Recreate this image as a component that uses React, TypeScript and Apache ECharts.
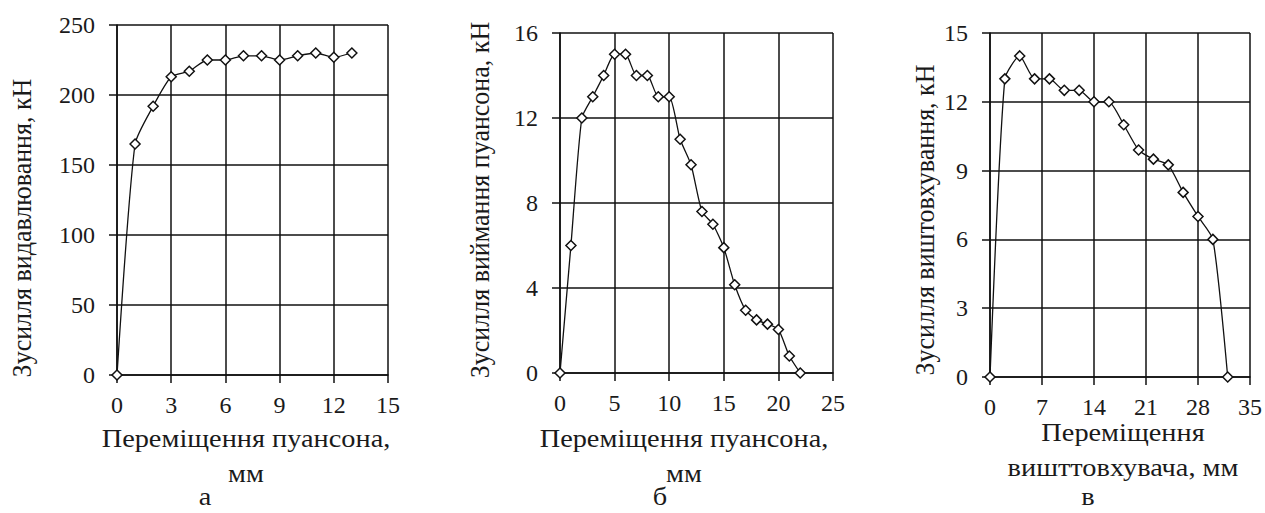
import React, { useEffect, useRef } from "react";
import * as echarts from "echarts";

// Chart а: extrusion force vs punch displacement
const xA = [0, 1, 2, 3, 4, 5, 6, 7, 8, 9, 10, 11, 12, 13];
const yA = [0, 165, 192, 213, 217, 225, 225, 228, 228, 225, 228, 230, 227, 230];
// Chart б: punch extraction force vs punch displacement
const xB = [0, 1, 2, 3, 4, 5, 6, 7, 8, 9, 10, 11, 12, 13, 14, 15, 16, 17, 18, 19, 20, 21, 22];
const yB = [0, 6, 12, 13, 14, 15, 15, 14, 14, 13, 13, 11, 9.8, 7.6, 7, 5.9, 4.15, 2.95, 2.5, 2.3, 2.05, 0.8, 0];
// Chart в: ejection force vs ejector displacement
const xC = [0, 2, 4, 6, 8, 10, 12, 14, 16, 18, 20, 22, 24, 26, 28, 30, 32];
const yC = [0, 13, 14, 13, 13, 12.5, 12.5, 12, 12, 11, 9.9, 9.5, 9.25, 8.05, 7, 6, 0];

// Axis ticks
const xTicksA = { min: 0, max: 15, interval: 3 };
const yTicksA = { min: 0, max: 250, interval: 50 };
const xTicksB = { min: 0, max: 25, interval: 5 };
const yTicksB = { min: 0, max: 16, interval: 4 };
const xTicksC = { min: 0, max: 35, interval: 7 };
const yTicksC = { min: 0, max: 15, interval: 3 };

const yTitles = ["Зусилля видавлювання, кН", "Зусилля виймання пуансона, кН", "Зусилля виштовхування, кН"];
const xTitles = [
  ["Переміщення пуансона,", "мм"],
  ["Переміщення пуансона,", "мм"],
  ["Переміщення", "вишттовхувача, мм"],
];
const captions = ["а", "б", "в"];

const FONT = "Liberation Serif";
const FS = 24;
const TS = 26;
const INK = "#1a1a1a";

export default function App() {
  const ref = useRef<HTMLDivElement>(null);
  useEffect(() => {
    document.body.style.margin = "0";
    const chart = echarts.init(ref.current!, undefined, { renderer: "svg" });

    const grids = [
      { left: 117, top: 25, width: 271, height: 350 },
      { left: 560, top: 33, width: 273, height: 340 },
      { left: 990, top: 33, width: 263, height: 344 },
    ];
    const lineStyle = { color: "#111", width: 1.5 };
    const mkX = (i: number, t: any) => ({
      type: "value",
      gridIndex: i,
      ...t,
      axisLine: { show: true, onZero: false, lineStyle },
      axisTick: { show: true, length: 8, lineStyle },
      splitLine: { show: true, lineStyle },
      axisLabel: { margin: 18, fontSize: FS, fontFamily: FONT, color: INK },
    });
    const mkY = (i: number, t: any) => ({
      type: "value",
      gridIndex: i,
      ...t,
      axisLine: { show: true, onZero: false, lineStyle },
      axisTick: { show: true, length: 8, lineStyle },
      splitLine: { show: true, lineStyle },
      axisLabel: { margin: 22, fontSize: FS, fontFamily: FONT, color: INK },
    });
    const mkS = (i: number, xs: number[], ys: number[]) => ({
      type: "line",
      xAxisIndex: i,
      yAxisIndex: i,
      data: xs.map((x, k) => [x, ys[k]]),
      smooth: 0.2,
      symbol: "diamond",
      symbolSize: 10,
      lineStyle: { color: "#111", width: 1.3 },
      itemStyle: { color: "#fff", borderColor: "#111", borderWidth: 1.5 },
      z: 5,
    });

    const yTitlePos = [
      [22, 228],
      [480, 200],
      [925, 220],
    ];
    const xTitlePos = [
      [246, 438, 473],
      [684, 438, 473],
      [1123, 432, 467],
    ];
    const capPos = [
      [205, 496],
      [660, 496],
      [1088, 496],
    ];
    const txt = (x: number, y: number, text: string, rot = 0) => ({
      type: "text",
      x,
      y,
      rotation: rot,
      scaleX: rot ? 1 : 1.09,
      scaleY: rot ? 1.09 : 1,
      style: { text, fontSize: TS, fontFamily: FONT, fill: INK, align: "center", verticalAlign: "middle" },
    });
    const graphic: any[] = [];
    for (let i = 0; i < 3; i++) {
      graphic.push(txt(yTitlePos[i][0], yTitlePos[i][1], yTitles[i], Math.PI / 2));
      graphic.push(txt(xTitlePos[i][0], xTitlePos[i][1], xTitles[i][0]));
      graphic.push(txt(xTitlePos[i][0], xTitlePos[i][2], xTitles[i][1]));
      graphic.push(txt(capPos[i][0], capPos[i][1], captions[i]));
    }

    chart.setOption({
      animation: false,
      backgroundColor: "#fff",
      grid: grids,
      xAxis: [mkX(0, xTicksA), mkX(1, xTicksB), mkX(2, xTicksC)],
      yAxis: [mkY(0, yTicksA), mkY(1, yTicksB), mkY(2, yTicksC)],
      series: [mkS(0, xA, yA), mkS(1, xB, yB), mkS(2, xC, yC)],
      graphic,
    });
    return () => chart.dispose();
  }, []);
  return <div ref={ref} style={{ width: 1265, height: 513 }} />;
}
